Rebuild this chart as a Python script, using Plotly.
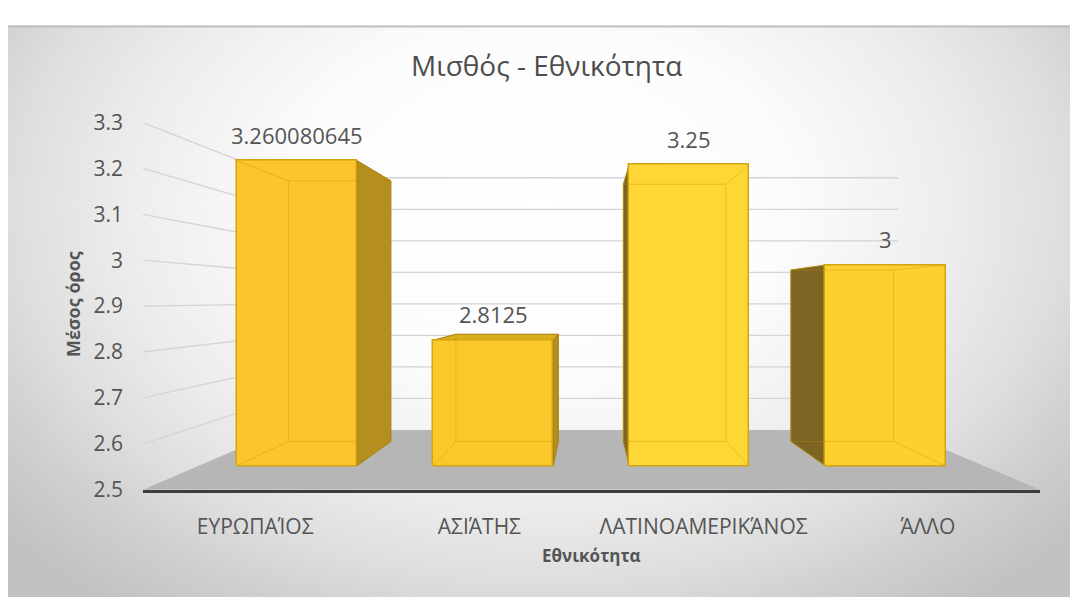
import base64
import plotly.graph_objects as go

# ---- data -----------------------------------------------------------------
categories = ["ΕΥΡΩΠΑΊΟΣ", "ΑΣΙΆΤΗΣ", "ΛΑΤΙΝΟΑΜΕΡΙΚΆΝΟΣ", "ΆΛΛΟ"]
mean_salary = [3.260080645, 2.8125, 3.25, 3]
y_ticks = [2.5, 2.6, 2.7, 2.8, 2.9, 3.0, 3.1, 3.2, 3.3]
y_tick_labels = ["2.5", "2.6", "2.7", "2.8", "2.9", "3", "3.1", "3.2", "3.3"]

title_text = "Μισθός - Εθνικότητα"
x_title = "Εθνικότητα"
y_title = "Μέσος όρος"

# ---- canvas / perspective set-up -------------------------------------------
W, H = 1070, 610
PLOT_L, PLOT_R = 143, 1040          # front edge of the floor (px)
FRONT_BASE_PX, FRONT_TOP_PX = 497.5, 112.7   # 2.5 and 3.3 on the front plane
VP_PX = (589.0, 297.6)              # vanishing point (px)

X_RANGE = [-0.5, 3.5]
Y_RANGE = [2.5, 3.3]
FLOOR = Y_RANGE[0]

S_BAR_FRONT = 0.875   # depth scale of the bar fronts
S_BAR_BACK = 0.747    # depth scale of the bar backs
S_WALL = 0.687        # depth scale of the back wall
BAR_W = 0.612

FONT = "Open Sans"
TXT = "#555555"


def py(p):
    """pixel row -> paper fraction"""
    return (H - p) / H


x_dom = [PLOT_L / W, PLOT_R / W]
y_dom = [py(FRONT_BASE_PX), py(FRONT_TOP_PX)]

Uv = X_RANGE[0] + (VP_PX[0] - PLOT_L) / (PLOT_R - PLOT_L) * (X_RANGE[1] - X_RANGE[0])
Vv = Y_RANGE[0] + (FRONT_BASE_PX - VP_PX[1]) / (FRONT_BASE_PX - FRONT_TOP_PX) * (Y_RANGE[1] - Y_RANGE[0])
PX_PER_UNIT = (FRONT_BASE_PX - FRONT_TOP_PX) / (Y_RANGE[1] - Y_RANGE[0])


def proj(u, v, s):
    """perspective projection of (category, value, depth) onto the front axes"""
    return Uv + (u - Uv) * s, Vv + (v - Vv) * s


def poly(points):
    xs = [p[0] for p in points] + [points[0][0]]
    ys = [p[1] for p in points] + [points[0][1]]
    return xs, ys


fig = go.Figure()

# ---- walls: side-wall and back-wall gridlines --------------------------------
gx, gy = [], []
for v in y_ticks[1:]:
    for p in (proj(X_RANGE[0], v, 1.0), proj(X_RANGE[0], v, S_WALL), proj(X_RANGE[1], v, S_WALL)):
        gx.append(p[0]); gy.append(p[1])
    gx.append(None); gy.append(None)
fig.add_trace(go.Scatter(x=gx, y=gy, mode="lines", line=dict(color="#d4d4d4", width=1.3),
                         hoverinfo="skip", showlegend=False))

# ---- floor -------------------------------------------------------------------
fx, fy = poly([proj(X_RANGE[0], FLOOR, 1.0), proj(X_RANGE[1], FLOOR, 1.0),
               proj(X_RANGE[1], FLOOR, S_WALL), proj(X_RANGE[0], FLOOR, S_WALL)])
fig.add_trace(go.Scatter(x=fx, y=fy, mode="lines", fill="toself", fillcolor="#b6b6b6",
                         line=dict(width=0), hoverinfo="skip", showlegend=False))

# ---- bar side / top faces ----------------------------------------------------
for i, val in enumerate(mean_salary):
    ul, ur = i - BAR_W / 2, i + BAR_W / 2
    faces = []
    if ur < Uv:   # right side is visible
        faces.append(([proj(ur, FLOOR, S_BAR_FRONT), proj(ur, val, S_BAR_FRONT),
                       proj(ur, val, S_BAR_BACK), proj(ur, FLOOR, S_BAR_BACK)], "#b48e1f"))
    if ul > Uv:   # left side is visible
        faces.append(([proj(ul, FLOOR, S_BAR_FRONT), proj(ul, val, S_BAR_FRONT),
                       proj(ul, val, S_BAR_BACK), proj(ul, FLOOR, S_BAR_BACK)], "#7c6424"))
    if val < Vv:  # top is visible
        faces.append(([proj(ul, val, S_BAR_FRONT), proj(ur, val, S_BAR_FRONT),
                       proj(ur, val, S_BAR_BACK), proj(ul, val, S_BAR_BACK)], "#dcad1e"))
    for pts, col in faces:
        sx, sy = poly(pts)
        fig.add_trace(go.Scatter(x=sx, y=sy, mode="lines", fill="toself", fillcolor=col,
                                 line=dict(color="#a07f14", width=1), hoverinfo="skip",
                                 showlegend=False))

# ---- bar fronts on the bar-plane axes ----------------------------------------
bar_colors = ["#fbc52b", "#fbc82b", "#fed636", "#fdcf2f"]
fig.add_trace(go.Bar(x=list(range(len(categories))), y=mean_salary, width=BAR_W,
                     marker=dict(color=bar_colors, line=dict(color="#d2a412", width=1.5)),
                     xaxis="x2", yaxis="y2", hoverinfo="skip", showlegend=False))

# ---- edges seen through the bars + bottom edge -------------------------------
ex, ey = [], []
bx, by = [], []
for i, val in enumerate(mean_salary):
    ul, ur = i - BAR_W / 2, i + BAR_W / 2
    back = [proj(ul, FLOOR, S_BAR_BACK), proj(ur, FLOOR, S_BAR_BACK),
            proj(ur, val, S_BAR_BACK), proj(ul, val, S_BAR_BACK)]
    xs, ys = poly(back)
    ex += xs + [None]; ey += ys + [None]
    for (u, v) in ((ul, FLOOR), (ur, FLOOR), (ur, val), (ul, val)):
        a, b = proj(u, v, S_BAR_FRONT), proj(u, v, S_BAR_BACK)
        ex += [a[0], b[0], None]; ey += [a[1], b[1], None]
    a, b = proj(ul, FLOOR, S_BAR_FRONT), proj(ur, FLOOR, S_BAR_FRONT)
    bx += [a[0], b[0], None]; by += [a[1], b[1], None]
fig.add_trace(go.Scatter(x=ex, y=ey, mode="lines", line=dict(color="rgba(196,146,0,0.35)", width=1),
                         xaxis="x3", yaxis="y3", hoverinfo="skip", showlegend=False))
fig.add_trace(go.Scatter(x=bx, y=by, mode="lines", line=dict(color="#d2a412", width=1.5),
                         xaxis="x3", yaxis="y3", hoverinfo="skip", showlegend=False))

# ---- value labels ------------------------------------------------------------
annotations = []
for i, val in enumerate(mean_salary):
    annotations.append(dict(x=i, y=val, xref="x2", yref="y2", text=f"{val:.10g}",
                            showarrow=False, yanchor="middle", yshift=26,
                            font=dict(family=FONT, size=22, color=TXT)))

annotations += [
    dict(x=546.7 / W, y=py(52.7), xref="paper", yref="paper", text=title_text, showarrow=False,
         xanchor="center", yanchor="middle", font=dict(family=FONT, size=28, color="#4d4d4d")),
    dict(x=(PLOT_L + PLOT_R) / 2 / W, y=py(567), xref="paper", yref="paper",
         text=f"<b>{x_title}</b>", showarrow=False, xanchor="center", yanchor="middle",
         font=dict(family=FONT, size=17, color=TXT)),
    dict(x=73 / W, y=py(303), xref="paper", yref="paper", text=f"<b>{y_title}</b>",
         showarrow=False, textangle=-90, xanchor="center", yanchor="middle",
         font=dict(family=FONT, size=18, color=TXT)),
]

# ---- background (radial gradient chart area) ---------------------------------
svg = f"""<svg xmlns='http://www.w3.org/2000/svg' width='{W}' height='{H}' viewBox='0 0 {W} {H}'>
<defs><radialGradient id='g' gradientUnits='userSpaceOnUse' cx='540' cy='200' r='700'
 gradientTransform='translate(540 200) scale(1 0.75) translate(-540 -200)'>
<stop offset='0' stop-color='#ffffff'/><stop offset='0.35' stop-color='#fcfcfc'/>
<stop offset='0.6' stop-color='#ececec'/><stop offset='0.75' stop-color='#dedede'/>
<stop offset='0.86' stop-color='#d0d0d0'/><stop offset='1' stop-color='#c2c2c2'/>
</radialGradient></defs>
<rect x='0' y='0' width='{W}' height='{H}' fill='#ffffff'/>
<rect x='8' y='11' width='{W - 8}' height='{H - 11}' fill='url(#g)'/>
<rect x='8' y='11' width='{W - 8}' height='2' fill='#bdbdbd'/>
</svg>"""
bg_src = "data:image/svg+xml;base64," + base64.b64encode(svg.encode("utf-8")).decode("ascii")

# bar-plane axis ranges derived from the same perspective
x2_range = [Uv + (X_RANGE[0] - Uv) / S_BAR_FRONT, Uv + (X_RANGE[1] - Uv) / S_BAR_FRONT]
bar_floor_main = Vv + (FLOOR - Vv) * S_BAR_FRONT
bar_floor_px = FRONT_BASE_PX - (bar_floor_main - Y_RANGE[0]) * PX_PER_UNIT
y2_range = [FLOOR, Vv + (Y_RANGE[1] - Vv) / S_BAR_FRONT]

hidden = dict(visible=False, fixedrange=True)

fig.update_layout(
    width=W, height=H, autosize=False,
    margin=dict(l=0, r=0, t=0, b=0),
    paper_bgcolor="white", plot_bgcolor="rgba(0,0,0,0)",
    showlegend=False,
    images=[dict(source=bg_src, xref="paper", yref="paper", x=0, y=1, sizex=1, sizey=1,
                 xanchor="left", yanchor="top", sizing="stretch", layer="below")],
    xaxis=dict(domain=x_dom, range=X_RANGE, tickvals=list(range(len(categories))),
               ticktext=categories, showgrid=False, zeroline=False, ticks="",
               showline=True, linecolor="#3d3d3d", linewidth=3, ticklabelstandoff=16,
               tickfont=dict(family=FONT, size=21, color=TXT), fixedrange=True),
    yaxis=dict(domain=y_dom, range=Y_RANGE, tickvals=y_ticks, ticktext=y_tick_labels,
               showgrid=False, zeroline=False, showline=False, ticks="",
               ticklabelstandoff=19, tickfont=dict(family=FONT, size=21, color=TXT),
               fixedrange=True),
    xaxis2=dict(domain=x_dom, range=x2_range, anchor="y2", **hidden),
    yaxis2=dict(domain=[py(bar_floor_px), y_dom[1]], range=y2_range, anchor="x2", **hidden),
    xaxis3=dict(domain=x_dom, range=X_RANGE, anchor="y3", **hidden),
    yaxis3=dict(domain=y_dom, range=Y_RANGE, anchor="x3", **hidden),
    annotations=annotations,
    bargap=0,
)

fig.write_html("out.html")
